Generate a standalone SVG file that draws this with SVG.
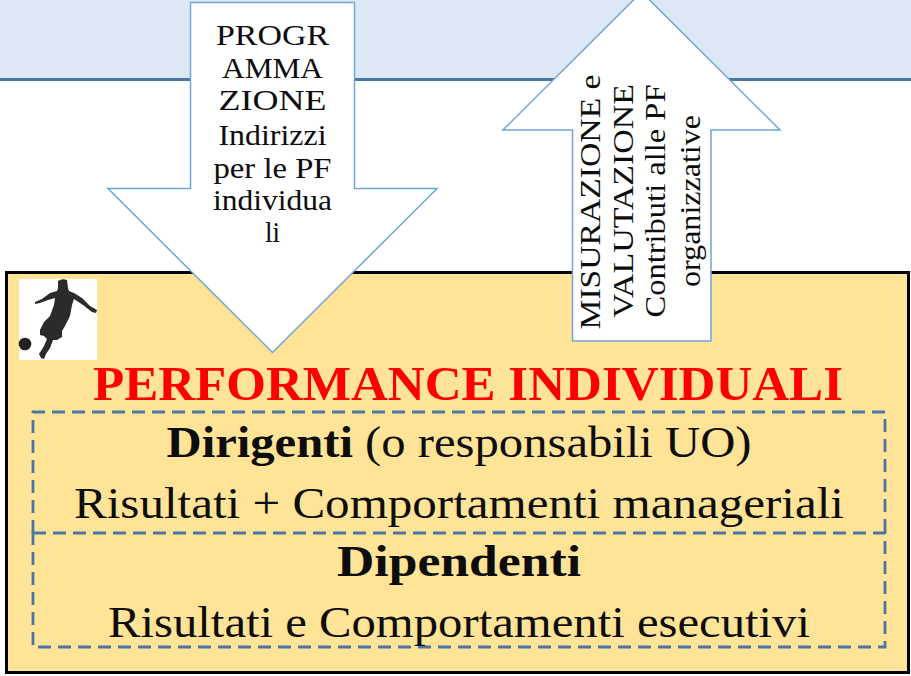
<svg xmlns="http://www.w3.org/2000/svg" width="911" height="676" viewBox="0 0 911 676">
<style>
text{font-family:"Liberation Serif","Times New Roman",serif;fill:#0d0d0d;text-anchor:middle}
.arrow{fill:#fff;stroke:#6fa5d8;stroke-width:1.5}
.a{font-size:30px}
.m{font-size:44px}
.dash{fill:none;stroke:#4a76a3;stroke-width:2.8;stroke-dasharray:13 7}
</style>
<rect width="911" height="79" fill="#dde8f4"/>
<rect y="78" width="911" height="3" fill="#4a76a3"/>
<g id="panel"><rect x="6.500" y="272.500" width="902" height="400" fill="#ffe397" stroke="#000" stroke-width="3"/></g>
<g id="player">
<rect x="19" y="279" width="78" height="81" fill="#fff"/>
<path d="M58 281Q62 278 67 280L68 288L69 291L74 293L82 298L90 306L97 310L96 313L92 312L83 305L74 299L72 305L70 316L65 326L62 331L62 337L57 340L53 340L50 348L46 354L44 359L41 358L39 354L44 346L47 339L44 336L40 335L40 330L44 322L50 316L54 305L55 298L48 300L40 303L35 304L35 302L42 299L50 293L57 291L58 288Z" fill="#2b2b2b"/>
<circle cx="25" cy="344" r="6.300" fill="#222"/>
</g>
<g id="programmazione">
<path class="arrow" d="M190.500 2.500H354.500V188.500H437L272.500 352.500L108 188.500H190.500Z"/>
<text class="a" x="272.500" y="45" textLength="113" lengthAdjust="spacingAndGlyphs">PROGR</text>
<text class="a" x="272.500" y="78" textLength="101" lengthAdjust="spacingAndGlyphs">AMMA</text>
<text class="a" x="272.500" y="110" textLength="108" lengthAdjust="spacingAndGlyphs">ZIONE</text>
<text class="a" x="272.500" y="145" textLength="108" lengthAdjust="spacingAndGlyphs">Indirizzi</text>
<text class="a" x="272.500" y="178" textLength="118" lengthAdjust="spacingAndGlyphs">per le PF</text>
<text class="a" x="272.500" y="210" textLength="119" lengthAdjust="spacingAndGlyphs">individua</text>
<text class="a" x="272.500" y="242" textLength="15" lengthAdjust="spacingAndGlyphs">li</text>
</g>
<g id="misurazione">
<path class="arrow" d="M641.500 -8L780 130H711V341H572.500V130H503Z"/>
<text class="a" transform="translate(600 202) rotate(-90)" textLength="255" lengthAdjust="spacingAndGlyphs">MISURAZIONE e</text>
<text class="a" transform="translate(633 201) rotate(-90)" textLength="234" lengthAdjust="spacingAndGlyphs">VALUTAZIONE</text>
<text class="a" transform="translate(665 201) rotate(-90)" textLength="233" lengthAdjust="spacingAndGlyphs">Contributi alle PF</text>
<text class="a" transform="translate(700 201) rotate(-90)" textLength="172" lengthAdjust="spacingAndGlyphs">organizzative</text>
</g>
<g id="titolo"><text x="468" y="400" font-size="49" font-weight="700" style="fill:#ff0000" textLength="750" lengthAdjust="spacingAndGlyphs">PERFORMANCE INDIVIDUALI</text></g>
<g id="dirigenti">
<path class="dash" d="M33 533V412H885V533"/>
<text class="m" x="459" y="457" textLength="585" lengthAdjust="spacingAndGlyphs"><tspan font-weight="700">Dirigenti</tspan> (o responsabili UO)</text>
<text class="m" x="459" y="518" textLength="770" lengthAdjust="spacingAndGlyphs">Risultati + Comportamenti manageriali</text>
</g>
<g id="dipendenti">
<rect class="dash" x="33" y="533" width="852" height="114"/>
<text class="m" x="459" y="576" font-weight="700" textLength="244" lengthAdjust="spacingAndGlyphs">Dipendenti</text>
<text class="m" x="459" y="637" textLength="702" lengthAdjust="spacingAndGlyphs">Risultati e Comportamenti esecutivi</text>
</g>
</svg>
